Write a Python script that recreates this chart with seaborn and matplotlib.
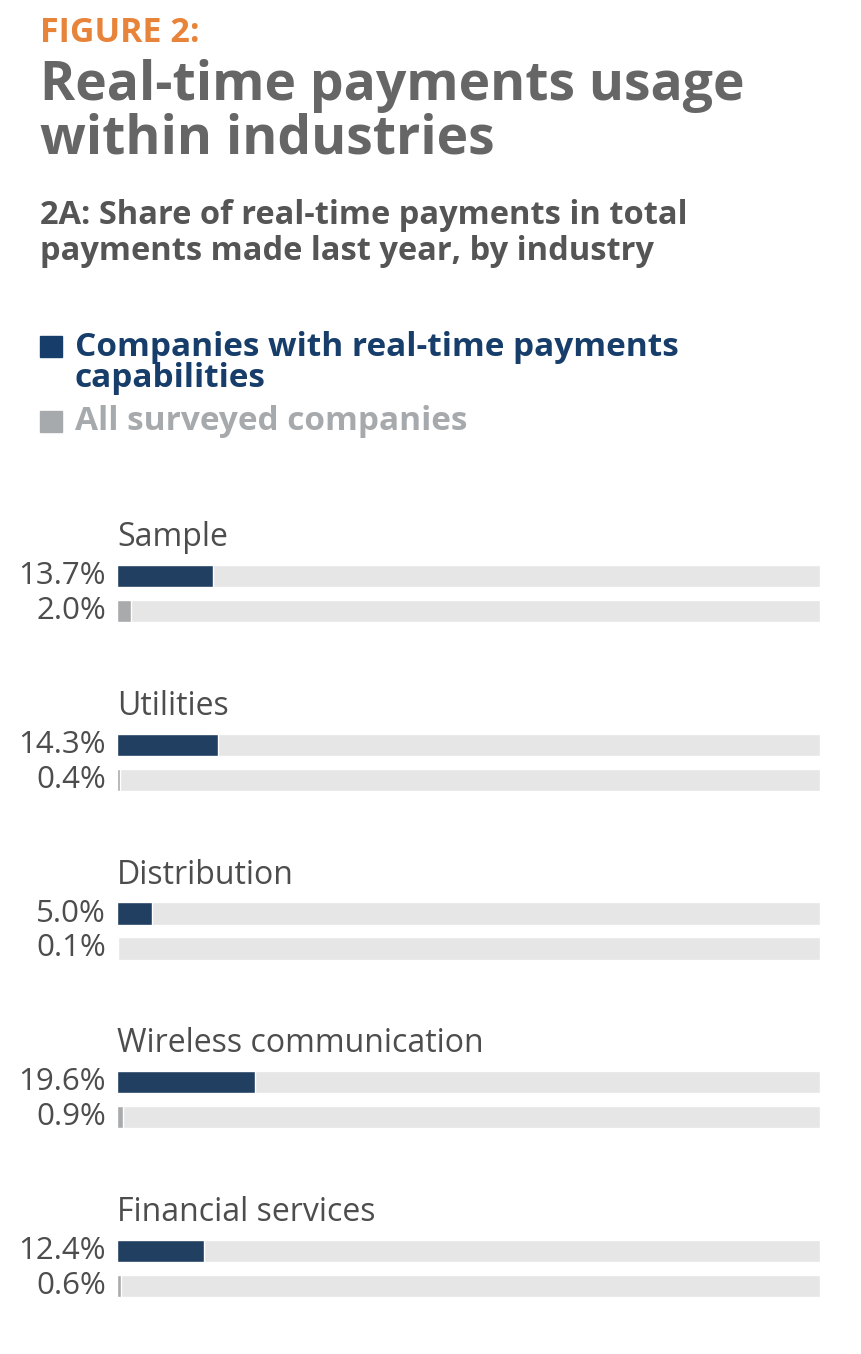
import pandas as pd
import numpy as np
import matplotlib.pyplot as plt
import seaborn as sns

industries = ['Sample', 'Utilities', 'Distribution', 'Wireless communication', 'Financial services']
rtp_capable = [13.7, 14.3, 5.0, 19.6, 12.4]
all_surveyed = [2.0, 0.4, 0.1, 0.9, 0.6]
series_names = ['Companies with real-time payments capabilities', 'All surveyed companies']
scale_max = 100

NAVY = '#173E6B'
GREY = '#A7AAAD'
TRACK = '#E6E6E6'
ORANGE = '#E8833A'
TITLE_GREY = '#666666'
TEXT = '#4D4D4D'

sns.set_theme(style='white')
plt.rcParams['font.family'] = ['Open Sans', 'DejaVu Sans']

W, H = 862, 1354
fig = plt.figure(figsize=(W / 100, H / 100), dpi=100)


def fy(px):
    return 1 - px / H


# headings
fig.text(40 / W, fy(33), 'FIGURE 2:', color=ORANGE, fontsize=24.5, fontweight='bold', va='center')
fig.text(40 / W, fy(86), 'Real-time payments usage', color=TITLE_GREY, fontsize=38.5,
         fontweight='bold', va='center')
fig.text(40 / W, fy(139), 'within industries', color=TITLE_GREY, fontsize=38.5,
         fontweight='bold', va='center')
fig.text(40 / W, fy(215), '2A: Share of real-time payments in total', color='#555555',
         fontsize=23.5, fontweight='bold', va='center')
fig.text(40 / W, fy(251), 'payments made last year, by industry', color='#555555',
         fontsize=23.5, fontweight='bold', va='center')

# legend
fig.patches.append(plt.Rectangle((40 / W, fy(357)), 22 / W, 21 / H, color=NAVY,
                                 transform=fig.transFigure))
fig.text(75 / W, fy(347), 'Companies with real-time payments', color=NAVY, fontsize=24,
         fontweight='bold', va='center')
fig.text(75 / W, fy(379), 'capabilities', color=NAVY, fontsize=24,
         fontweight='bold', va='center')
fig.patches.append(plt.Rectangle((40 / W, fy(432)), 22 / W, 21 / H, color=GREY,
                                 transform=fig.transFigure))
fig.text(75 / W, fy(422), 'All surveyed companies', color=GREY, fontsize=24,
         fontweight='bold', va='center')

# bar groups
first_center = 576
step = 168.75
for i, name in enumerate(industries):
    c1 = first_center + i * step
    top_px = c1 - 17.5
    ax = fig.add_axes([117 / W, fy(top_px + 70), 703 / W, 70 / H])
    df = pd.DataFrame({'series': series_names,
                       'value': [rtp_capable[i], all_surveyed[i]],
                       'track': [scale_max, scale_max]})
    sns.barplot(data=df, x='track', y='series', color=TRACK, width=0.63, ax=ax,
                order=series_names)
    sns.barplot(data=df, x='value', y='series', hue='series', palette=[NAVY, GREY],
                width=0.63, ax=ax, order=series_names, hue_order=series_names, legend=False)
    ax.set_xlim(0, scale_max)
    ax.set_ylim(1.5, -0.5)
    ax.axis('off')
    for j, v in enumerate(df['value']):
        ax.text(-11 / 703, j, f'{v:.1f}%', transform=ax.get_yaxis_transform(),
                ha='right', va='center', fontsize=22.5, color=TEXT)
    ax.text(0, -1.1, name, ha='left', va='center', fontsize=23, color=TEXT, clip_on=False)

fig.savefig('out.png', dpi=100)
